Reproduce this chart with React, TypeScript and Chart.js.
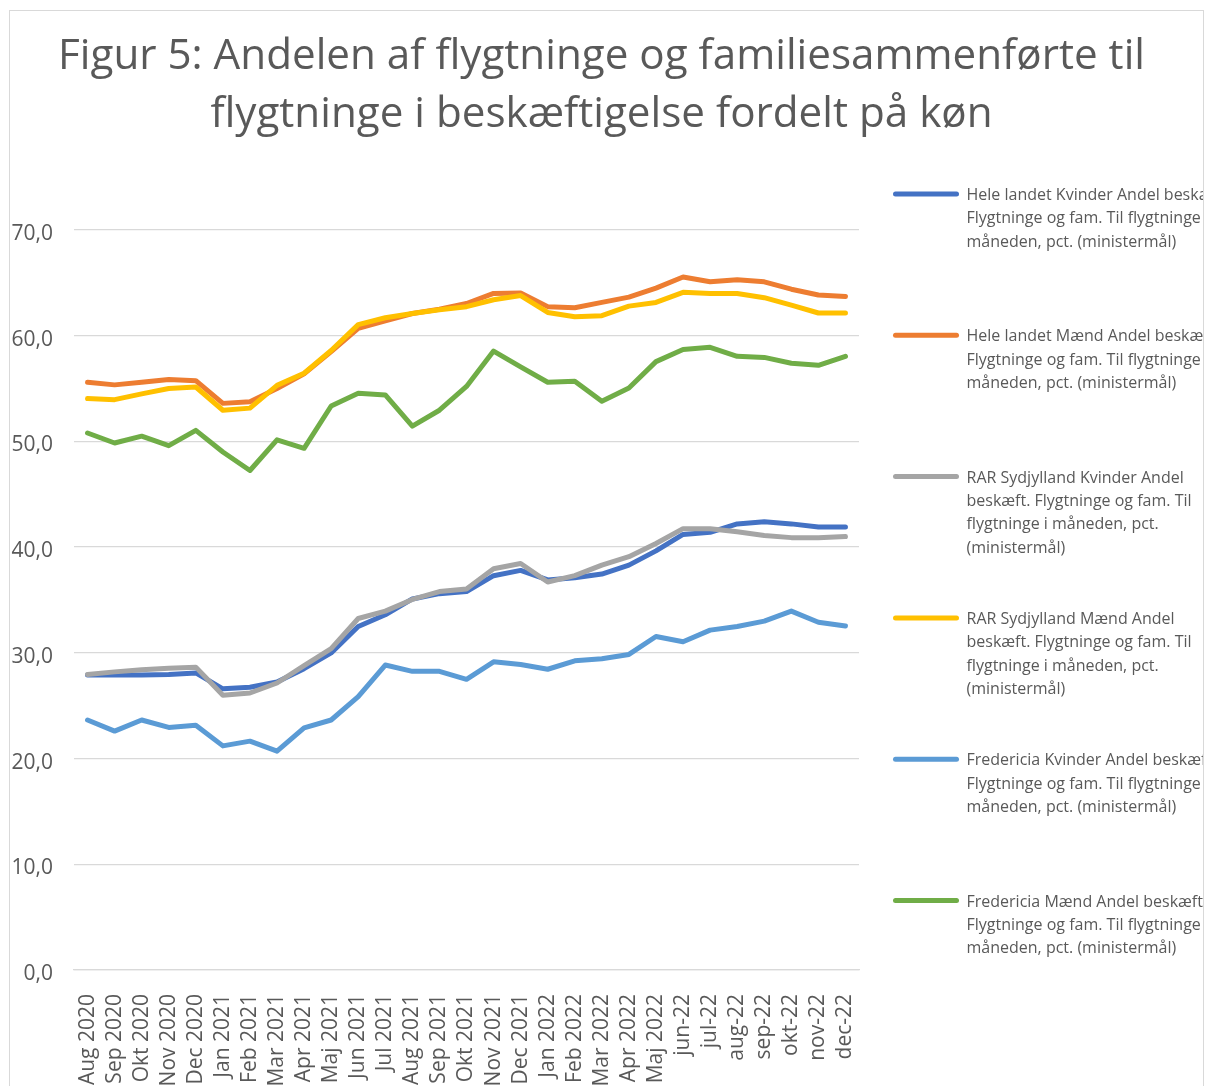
import React, { useEffect, useRef } from "react";
import { Chart, registerables } from "chart.js";

Chart.register(...registerables);

// ---------- data ----------
const categories = [
  "Aug 2020", "Sep 2020", "Okt 2020", "Nov 2020", "Dec 2020",
  "Jan 2021", "Feb 2021", "Mar 2021", "Apr 2021", "Maj 2021", "Jun 2021",
  "Jul 2021", "Aug 2021", "Sep 2021", "Okt 2021", "Nov 2021", "Dec 2021",
  "Jan 2022", "Feb 2022", "Mar 2022", "Apr 2022", "Maj 2022",
  "jun-22", "jul-22", "aug-22", "sep-22", "okt-22", "nov-22", "dec-22",
];

const heleLandetKvinder = [
  27.9, 27.9, 27.9, 27.95, 28.1, 26.6, 26.75, 27.25, 28.5, 30.0, 32.5,
  33.6, 35.1, 35.6, 35.8, 37.3, 37.8, 36.9, 37.1, 37.45, 38.3, 39.65,
  41.2, 41.4, 42.2, 42.4, 42.2, 41.9, 41.9,
];
const heleLandetMaend = [
  55.6, 55.35, 55.6, 55.85, 55.75, 53.6, 53.75, 55.0, 56.4, 58.5, 60.7,
  61.4, 62.1, 62.5, 63.05, 64.0, 64.05, 62.75, 62.65, 63.15, 63.65, 64.5,
  65.55, 65.1, 65.3, 65.1, 64.4, 63.85, 63.7,
];
const rarKvinder = [
  27.95, 28.2, 28.4, 28.55, 28.65, 26.0, 26.2, 27.15, 28.8, 30.4, 33.25,
  33.95, 35.05, 35.8, 36.05, 37.95, 38.45, 36.7, 37.3, 38.3, 39.1, 40.35,
  41.75, 41.75, 41.45, 41.1, 40.9, 40.9, 41.0,
];
const rarMaend = [
  54.05, 53.95, 54.5, 55.0, 55.15, 52.95, 53.15, 55.3, 56.45, 58.6, 61.05,
  61.7, 62.1, 62.45, 62.75, 63.4, 63.8, 62.2, 61.8, 61.9, 62.8, 63.15,
  64.1, 64.0, 64.0, 63.6, 62.9, 62.15, 62.15,
];
const fredericiaKvinder = [
  23.65, 22.6, 23.65, 22.95, 23.15, 21.2, 21.65, 20.7, 22.9, 23.65, 25.85,
  28.85, 28.25, 28.25, 27.5, 29.15, 28.9, 28.45, 29.25, 29.45, 29.85, 31.55,
  31.05, 32.15, 32.5, 33.0, 33.95, 32.9, 32.55,
];
const fredericiaMaend = [
  50.8, 49.85, 50.5, 49.6, 51.05, 49.0, 47.25, 50.15, 49.35, 53.35, 54.55,
  54.4, 51.45, 52.95, 55.2, 58.55, 57.05, 55.6, 55.7, 53.8, 55.05, 57.55,
  58.7, 58.9, 58.05, 57.95, 57.4, 57.2, 58.05,
];

const seriesNames = [
  "Hele landet Kvinder Andel beskæft. Flygtninge og fam. Til flygtninge i måneden, pct. (ministermål)",
  "Hele landet Mænd Andel beskæft. Flygtninge og fam. Til flygtninge i måneden, pct. (ministermål)",
  "RAR Sydjylland Kvinder Andel beskæft. Flygtninge og fam. Til flygtninge i måneden, pct. (ministermål)",
  "RAR Sydjylland Mænd Andel beskæft. Flygtninge og fam. Til flygtninge i måneden, pct. (ministermål)",
  "Fredericia Kvinder Andel beskæft. Flygtninge og fam. Til flygtninge i måneden, pct. (ministermål)",
  "Fredericia Mænd Andel beskæft. Flygtninge og fam. Til flygtninge i måneden, pct. (ministermål)",
];

const legendLines = [
  ["Hele landet Kvinder Andel beskæft.", "Flygtninge og fam. Til flygtninge i", "måneden, pct. (ministermål)"],
  ["Hele landet Mænd Andel beskæft.", "Flygtninge og fam. Til flygtninge i", "måneden, pct. (ministermål)"],
  ["RAR Sydjylland Kvinder Andel", "beskæft. Flygtninge og fam. Til", "flygtninge i måneden, pct.", "(ministermål)"],
  ["RAR Sydjylland Mænd Andel", "beskæft. Flygtninge og fam. Til", "flygtninge i måneden, pct.", "(ministermål)"],
  ["Fredericia Kvinder Andel beskæft.", "Flygtninge og fam. Til flygtninge i", "måneden, pct. (ministermål)"],
  ["Fredericia Mænd Andel beskæft.", "Flygtninge og fam. Til flygtninge i", "måneden, pct. (ministermål)"],
];

const titleLines = [
  "Figur 5: Andelen af flygtninge og familiesammenførte til",
  "flygtninge i beskæftigelse fordelt på køn",
];

const yTickLabels = ["0,0", "10,0", "20,0", "30,0", "40,0", "50,0", "60,0", "70,0"];

// ---------- styles ----------
const seriesColors = ["#4472C4", "#ED7D31", "#A5A5A5", "#FFC000", "#5B9BD5", "#70AD47"];
const TEXT = "#595959";
const GRID = "#d9d9d9";
const FONT = "'Open Sans', 'Noto Sans', sans-serif";
const CANVAS_W = 1193;
const CANVAS_H = 1075;

const legendPlugin = {
  id: "sideLegend",
  afterDraw(chart: any) {
    const ctx = chart.ctx;
    ctx.save();
    ctx.font = `16px ${FONT}`;
    ctx.textBaseline = "middle";
    ctx.textAlign = "left";
    legendLines.forEach((lines, i) => {
      const y0 = 183 + i * 141.3;
      ctx.strokeStyle = seriesColors[i];
      ctx.lineWidth = 5;
      ctx.lineCap = "round";
      ctx.beginPath();
      ctx.moveTo(885.5, y0);
      ctx.lineTo(946.5, y0);
      ctx.stroke();
      ctx.fillStyle = TEXT;
      lines.forEach((t, j) => {
        ctx.fillText(t, 956.5, y0 + 1.5 + j * 23.3);
      });
    });
    ctx.restore();
  },
};

const seriesData = [
  heleLandetKvinder,
  heleLandetMaend,
  rarKvinder,
  rarMaend,
  fredericiaKvinder,
  fredericiaMaend,
];

export default function App() {
  const ref = useRef<HTMLCanvasElement | null>(null);

  useEffect(() => {
    if (!ref.current) return;
    const chart = new Chart(ref.current, {
      type: "line",
      data: {
        labels: categories,
        datasets: seriesData.map((d, i) => ({
          label: seriesNames[i],
          data: d,
          borderColor: seriesColors[i],
          backgroundColor: seriesColors[i],
          borderWidth: 5,
          pointRadius: 0,
          pointHoverRadius: 0,
          tension: 0,
          borderCapStyle: "round" as const,
          borderJoinStyle: "round" as const,
          fill: false,
          order: 5 - i,
        })),
      },
      options: {
        responsive: false,
        animation: false,
        devicePixelRatio: 1,
        layout: { padding: { left: 0, top: 0, bottom: 0, right: 10 } },
        plugins: {
          legend: { display: false },
          tooltip: { enabled: false },
          title: {
            display: true,
            text: titleLines,
            color: TEXT,
            font: { family: FONT, size: 42.2, weight: "normal", lineHeight: "58px" } as any,
            padding: { top: 17, bottom: 86 },
          },
        },
        scales: {
          x: {
            type: "category",
            offset: true,
            grid: { display: false, drawTicks: false },
            border: { display: true, color: GRID, width: 1.3 },
            ticks: {
              autoSkip: false,
              minRotation: 90,
              maxRotation: 90,
              padding: 24,
              color: TEXT,
              font: { family: FONT, size: 21 },
            },
            afterFit: (s: any) => {
              s.height = 116;
            },
          },
          y: {
            min: 0,
            max: 70,
            position: "left",
            grid: { color: GRID, lineWidth: 1.3, drawTicks: false },
            border: { display: false },
            ticks: {
              stepSize: 10,
              padding: 21,
              labelOffset: 4,
              color: TEXT,
              font: { family: FONT, size: 21 },
              callback: (_v: any, idx: number) => yTickLabels[idx],
            },
            afterFit: (s: any) => {
              s.width = 64;
            },
          },
          yRight: {
            position: "right",
            display: true,
            grid: { display: false, drawTicks: false },
            border: { display: false },
            ticks: { display: false },
            afterFit: (s: any) => {
              s.width = 334;
            },
          },
        },
      },
      plugins: [legendPlugin],
    });
    return () => chart.destroy();
  }, []);

  return (
    <div
      style={{
        position: "absolute",
        left: 0,
        top: 0,
        width: 1209,
        height: 1086,
        overflow: "hidden",
        background: "#ffffff",
      }}
    >
      <div
        style={{
          position: "absolute",
          left: 9,
          top: 10,
          width: CANVAS_W,
          height: 1200,
          border: `1px solid ${GRID}`,
          background: "#ffffff",
        }}
      >
        <canvas
          ref={ref}
          width={CANVAS_W}
          height={CANVAS_H}
          style={{ display: "block", width: CANVAS_W, height: CANVAS_H }}
        />
      </div>
    </div>
  );
}
